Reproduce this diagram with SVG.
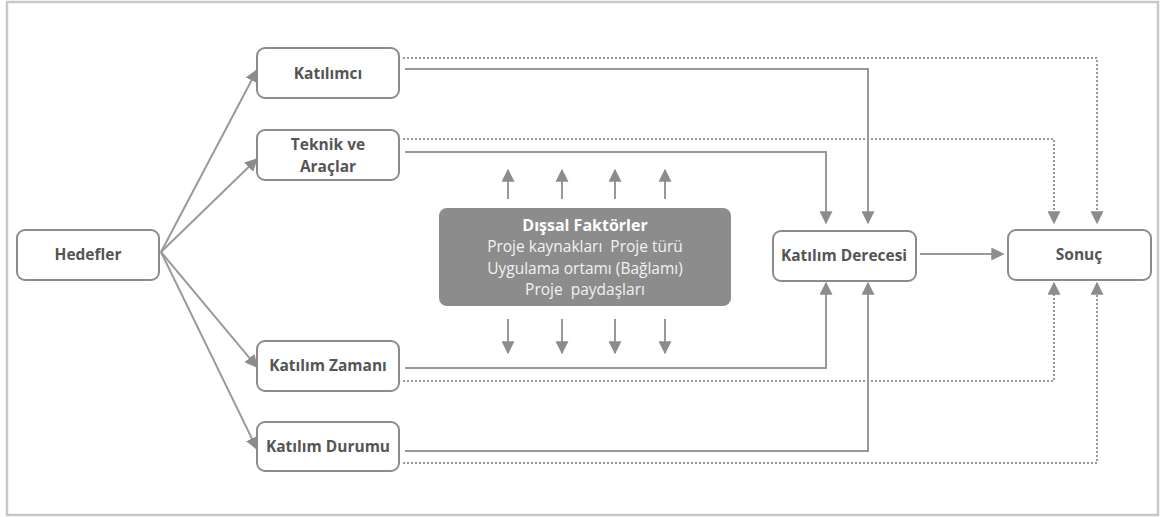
<svg xmlns="http://www.w3.org/2000/svg" width="1162" height="517" viewBox="0 0 1162 517">
<style>
.box{fill:#fff;stroke:#8c8c8c;stroke-width:2}
.lbl{font-family:"Open Sans","Liberation Sans",sans-serif;font-weight:bold;font-size:15.5px;fill:#555;text-anchor:middle}
.ext{font-family:"Open Sans","Liberation Sans",sans-serif;font-size:15.5px;fill:#f2f2f2;text-anchor:middle}
.sol{fill:none;stroke:#999;stroke-width:2}
.dot{fill:none;stroke:#999;stroke-width:2;stroke-dasharray:2 2}
</style>
<defs>
<marker id="ah" viewBox="0 0 10 10" refX="9" refY="5" markerWidth="13" markerHeight="13" markerUnits="userSpaceOnUse" orient="auto">
<path d="M0,0 L10,5 L0,10 z" fill="#8c8c8c"/>
</marker>
</defs>
<rect x="7" y="2" width="1151" height="513" fill="#fff" stroke="#c8c8c8" stroke-width="2.5"/>
<g id="connectors">
<line class="sol" x1="161" y1="252" x2="257" y2="70" marker-end="url(#ah)"/>
<line class="sol" x1="161" y1="252" x2="257" y2="159" marker-end="url(#ah)"/>
<line class="sol" x1="161" y1="252" x2="257" y2="367" marker-end="url(#ah)"/>
<line class="sol" x1="161" y1="252" x2="257" y2="449" marker-end="url(#ah)"/>
<polyline class="sol" points="405,69 868,69 868,223" marker-end="url(#ah)"/>
<polyline class="dot" points="403,58 1097,58 1097,223" marker-end="url(#ah)"/>
<polyline class="sol" points="405,152 826,152 826,223" marker-end="url(#ah)"/>
<polyline class="dot" points="403,139 1054,139 1054,223" marker-end="url(#ah)"/>
<polyline class="sol" points="405,368 826,368 826,283" marker-end="url(#ah)"/>
<polyline class="dot" points="403,381 1054,381 1054,283" marker-end="url(#ah)"/>
<polyline class="sol" points="405,451 868,451 868,283" marker-end="url(#ah)"/>
<polyline class="dot" points="403,463 1097,463 1097,283" marker-end="url(#ah)"/>
<line class="sol" x1="920" y1="254" x2="1003" y2="254" marker-end="url(#ah)"/>
<line class="sol" x1="508" y1="199" x2="508" y2="170" marker-end="url(#ah)"/>
<line class="sol" x1="562" y1="199" x2="562" y2="170" marker-end="url(#ah)"/>
<line class="sol" x1="615" y1="199" x2="615" y2="170" marker-end="url(#ah)"/>
<line class="sol" x1="665" y1="199" x2="665" y2="170" marker-end="url(#ah)"/>
<line class="sol" x1="508" y1="319" x2="508" y2="353" marker-end="url(#ah)"/>
<line class="sol" x1="562" y1="319" x2="562" y2="353" marker-end="url(#ah)"/>
<line class="sol" x1="615" y1="319" x2="615" y2="353" marker-end="url(#ah)"/>
<line class="sol" x1="665" y1="319" x2="665" y2="353" marker-end="url(#ah)"/>
</g>
<g id="hedefler"><rect class="box" x="17" y="230" width="142" height="50" rx="8"/><text class="lbl" x="88" y="260">Hedefler</text></g>
<g id="katilimci"><rect class="box" x="257" y="48" width="142" height="50" rx="8"/><text class="lbl" x="328" y="79">Katılımcı</text></g>
<g id="teknik"><rect class="box" x="257" y="130" width="142" height="50" rx="8"/><text class="lbl" x="328" y="150">Teknik ve</text><text class="lbl" x="328" y="172">Araçlar</text></g>
<g id="zamani"><rect class="box" x="257" y="341" width="142" height="50" rx="8"/><text class="lbl" x="328" y="371">Katılım Zamanı</text></g>
<g id="durumu"><rect class="box" x="257" y="422" width="142" height="49" rx="8"/><text class="lbl" x="328" y="452">Katılım Durumu</text></g>
<g id="derecesi"><rect class="box" x="773" y="231" width="143" height="50" rx="8"/><text class="lbl" x="844" y="261">Katılım Derecesi</text></g>
<g id="sonuc"><rect class="box" x="1008" y="230" width="143" height="50" rx="8"/><text class="lbl" x="1079" y="260">Sonuç</text></g>
<g id="dissal"><rect x="439" y="208" width="292" height="98" rx="8" fill="#8c8c8c"/>
<text class="ext" x="585" y="231" style="font-weight:bold;fill:#fff;font-size:16px">Dışsal Faktörler</text>
<text class="ext" x="585" y="252" xml:space="preserve">Proje kaynakları  Proje türü</text>
<text class="ext" x="585" y="274">Uygulama ortamı (Bağlamı)</text>
<text class="ext" x="585" y="295" xml:space="preserve">Proje  paydaşları</text>
</g>
</svg>
